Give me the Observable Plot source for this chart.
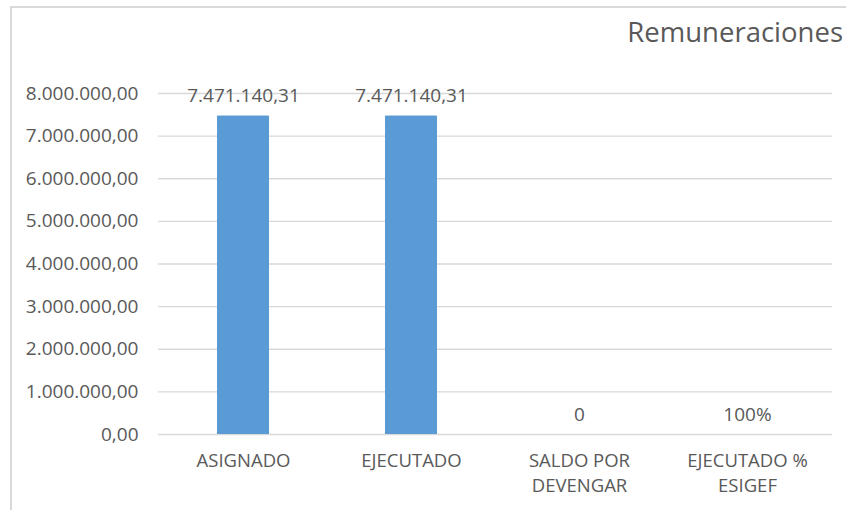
<!DOCTYPE html>
<html>
<head>
<meta charset="utf-8">
<script src="https://cdn.jsdelivr.net/npm/d3@7"></script>
<script src="https://cdn.jsdelivr.net/npm/@observablehq/plot@0.6"></script>
<style>
  body { margin: 0; background: #fff; }
  #wrap { position: relative; width: 846px; height: 510px; overflow: hidden; font-family: "Open Sans", sans-serif; }
  #border { position: absolute; left: 10px; top: 6px; width: 900px; height: 600px; border-left: 2px solid #d9d9d9; border-top: 2px solid #d9d9d9; }
  #title { position: absolute; right: 3px; top: 13px; font-size: 27.5px; color: #595959; white-space: nowrap; }
  svg { position: absolute; left: 0; top: 0; }
</style>
</head>
<body>
<div id="wrap"><div id="border"></div><div id="title">Remuneraciones</div></div>
<script>
const categories = ["ASIGNADO", "EJECUTADO", "SALDO POR DEVENGAR", "EJECUTADO % ESIGEF"];
const categoryLabels = ["ASIGNADO", "EJECUTADO", "SALDO POR\nDEVENGAR", "EJECUTADO %\nESIGEF"];
const values = [7471140.31, 7471140.31, 0, 1];
const valueLabels = ["7.471.140,31", "7.471.140,31", "0", "100%"];
const yTicks = [0, 1000000, 2000000, 3000000, 4000000, 5000000, 6000000, 7000000, 8000000];

const data = categories.map((c, i) => ({category: c, value: values[i], label: valueLabels[i]}));
const locale = d3.formatLocale({decimal: ",", thousands: ".", grouping: [3], currency: ["", ""]});
const fmt = locale.format(",.2f");
const labelOf = new Map(categories.map((c, i) => [c, categoryLabels[i]]));

const chart = Plot.plot({
  width: 846,
  height: 510,
  marginLeft: 158,
  marginRight: 14,
  marginTop: 93,
  marginBottom: 76,
  style: {fontFamily: "Open Sans, sans-serif", color: "#595959", background: "transparent"},
  x: {domain: categories, paddingInner: 0.69, paddingOuter: 0.345, label: null},
  y: {domain: [0, 8000000], label: null},
  marks: [
    Plot.gridY(yTicks, {stroke: "#d9d9d9", strokeOpacity: 1, strokeWidth: 1.3}),
    Plot.axisY(yTicks, {tickSize: 0, tickPadding: 20, tickFormat: fmt, fontSize: 19, fill: "#595959", label: null}),
    Plot.axisX({tickSize: 0, tickPadding: 15, tickFormat: d => labelOf.get(d), fontSize: 18.5, lineHeight: 1.35, fill: "#595959", label: null}),
    Plot.barY(data, {x: "category", y: "value", fill: "#5b9bd5"}),
    Plot.text(data, {x: "category", y: "value", text: "label", dy: -20, fontSize: 19, fill: "#595959"})
  ]
});
document.getElementById("wrap").insertBefore(chart, document.getElementById("title"));
</script>
</body>
</html>
